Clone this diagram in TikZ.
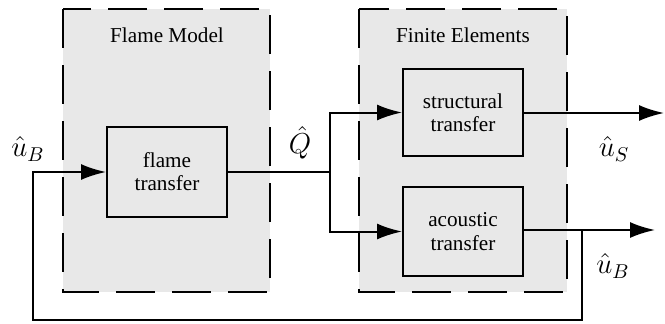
\documentclass[tikz,border=0pt]{standalone}
\usepackage{fontspec}
\setmainfont{Liberation Serif}
\usetikzlibrary{arrows.meta}
\definecolor{panelgray}{HTML}{E8E8E8}
\tikzset{
  x=0.5pt, y=-0.5pt,
  every node/.style={font=\fontsize{10.6}{11.6}\selectfont},
  panel/.style={draw=black, fill=panelgray, line width=1pt, dash pattern=on 19.5pt off 8.5pt},
  block/.style={draw=black, fill=panelgray, line width=1pt, align=center, inner sep=0pt},
  signal/.style={font=\fontsize{14.5}{16}\selectfont, inner sep=1pt},
  wire/.style={line width=1pt},
  flow/.style={wire, -{Latex[length=12.5pt,width=8pt]}},
}
\begin{document}
\begin{tikzpicture}
  \useasboundingbox (0,0) rectangle (665,323);

  % dashed group panels
  \draw[panel] (63,9) rectangle (270,292);
  \draw[panel] (359,9) rectangle (567,292);
  \node (fmtitle) at (167,35) {Flame Model};
  \node (fetitle) at (463,35) {Finite Elements};

  % transfer blocks
  \node[block, minimum width=60pt, minimum height=45pt] (flame) at (167,172) {flame\\transfer};
  \node[block, minimum width=60pt, minimum height=43.5pt] (struct) at (463,112.5) {structural\\transfer};
  \node[block, minimum width=60pt, minimum height=44.5pt] (acoust) at (463,231.5) {acoustic\\transfer};

  % junctions and free ends
  \coordinate (split) at (330,172);
  \coordinate (tapB) at (582,230);
  \coordinate (outS) at (664,113);
  \coordinate (outB) at (655,230);
  \coordinate (fbR) at (582,320);
  \coordinate (fbL) at (33,320);
  \coordinate (fbUp) at (33,172);

  % heat release to both finite element blocks
  \draw[wire] (flame.east) -- (split);
  \draw[flow] (split) |- (struct.west);
  \draw[flow] (split) |- (acoust.west);

  % outputs
  \draw[flow] (struct.east |- outS) -- (outS);
  \draw[flow] (acoust.east |- outB) -- (outB);

  % velocity feedback loop
  \draw[flow] (tapB) -- (fbR) -- (fbL) -- (fbUp) -- (flame.west);

  % signal labels
  \node[signal] (uBin) at (28,149) {$\hat u_B$};
  \node[signal] (Qhat) at (300,143) {$\hat Q$};
  \node[signal] (uS) at (614,149) {$\hat u_S$};
  \node[signal] (uBout) at (613,266) {$\hat u_B$};
\end{tikzpicture}
\end{document}
